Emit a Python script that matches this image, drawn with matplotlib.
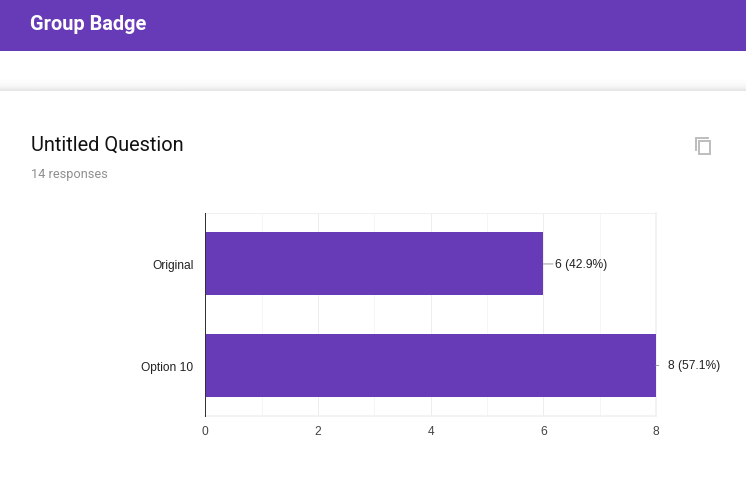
import numpy as np
import matplotlib
matplotlib.use("Agg")
import matplotlib.pyplot as plt
from matplotlib.patches import Rectangle

plt.rcParams['font.family'] = ['Roboto', 'DejaVu Sans']

# Chart data
categories = ["Original", "Option 10"]
counts = [6, 8]
value_labels = ["6 (42.9%)", "8 (57.1%)"]
x_ticks = [0, 2, 4, 6, 8]
x_minor_ticks = [1, 3, 5, 7]
leader_lengths = [7, 2]  # points, short one on the bar that nearly hits the edge

header_title = "Group Badge"
question_title = "Untitled Question"
responses_text = "14 responses"

PURPLE = "#673ab7"
CHART_FONT = ["Liberation Sans", "DejaVu Sans"]
W, H = 746, 502

fig = plt.figure(figsize=(W / 100, H / 100), dpi=100, facecolor="white")

# Page furniture drawn in pixel coordinates
page = fig.add_axes([0, 0, 1, 1], zorder=0)
page.set_xlim(0, W)
page.set_ylim(H, 0)
page.axis("off")
page.add_patch(Rectangle((0, 0), W, 51.7, color=PURPLE, lw=0))

# Shadow above the card
shade = np.array([1.0, 1.0, 0.995, 0.99, 0.985, 0.98, 0.97, 0.955, 0.93, 0.90]).reshape(-1, 1)
page.imshow(shade, cmap="gray", vmin=0, vmax=1, extent=(0, W, 92, 77), aspect="auto",
            interpolation="bilinear")
page.set_xlim(0, W)
page.set_ylim(H, 0)

page.text(30.3, 24.5, header_title, color="white", fontsize=14.4, fontweight="bold",
          va="center", ha="left")
page.text(30.8, 145, question_title, color="#111111", fontsize=14.4, va="center", ha="left")
page.text(30.8, 174.5, responses_text, color="#8f8f8f", fontsize=9.2, va="center", ha="left")

# Copy icon
page.plot([696, 696, 708], [150.5, 138.5, 138.5], color="#bdbdbd", lw=1.4, solid_joinstyle="miter")
page.add_patch(Rectangle((699, 141.5), 10.5, 13.5, fill=False, ec="#bdbdbd", lw=1.4))

# Bar chart
ax = fig.add_axes([205.2 / W, 1 - 417.2 / H, (656 - 205.2) / W, (417.2 - 214.2) / H], zorder=1)
ax.patch.set_alpha(0)
y_pos = np.arange(len(categories))
ax.barh(y_pos, counts, height=0.62, color=PURPLE, zorder=3)
ax.set_xlim(0, 8)
ax.set_ylim(1.5, -0.5)

ax.set_yticks(y_pos)
ax.set_yticklabels(categories, family=CHART_FONT, va="center_baseline")
ax.set_xticks(x_ticks)
ax.set_xticklabels([str(t) for t in x_ticks], family=CHART_FONT)
ax.set_xticks(x_minor_ticks, minor=True)
ax.tick_params(axis="both", which="both", length=0)
ax.tick_params(axis="y", pad=8.4, labelsize=8.64, labelcolor="#222222")
ax.tick_params(axis="x", pad=6, labelsize=8.64, labelcolor="#444444")

ax.grid(True, axis="x", which="major", color="#ededed", lw=0.72, zorder=1)
ax.grid(True, axis="x", which="minor", color="#f5f5f5", lw=0.72, zorder=1)

for side in ["top", "right", "bottom"]:
    ax.spines[side].set_color("#f0f0f0")
    ax.spines[side].set_linewidth(1.1 if side != "top" else 0.72)
ax.spines["left"].set_color("#333333")
ax.spines["left"].set_linewidth(0.72)
ax.spines["left"].set_zorder(5)

# Value labels with leader lines
for y, count, label, leader in zip(y_pos, counts, value_labels, leader_lengths):
    ax.annotate("", xy=(count, y), xytext=(leader, 0), textcoords="offset points",
                arrowprops=dict(arrowstyle="-", color="#9e9e9e", lw=0.72, shrinkA=0, shrinkB=0),
                annotation_clip=False, zorder=4)
    ax.annotate(label, xy=(count, y), xytext=(8.6, 0), textcoords="offset points",
                fontsize=8.64, family=CHART_FONT, color="#222222", va="center", ha="left",
                annotation_clip=False)

fig.savefig("out.png", dpi=100)
